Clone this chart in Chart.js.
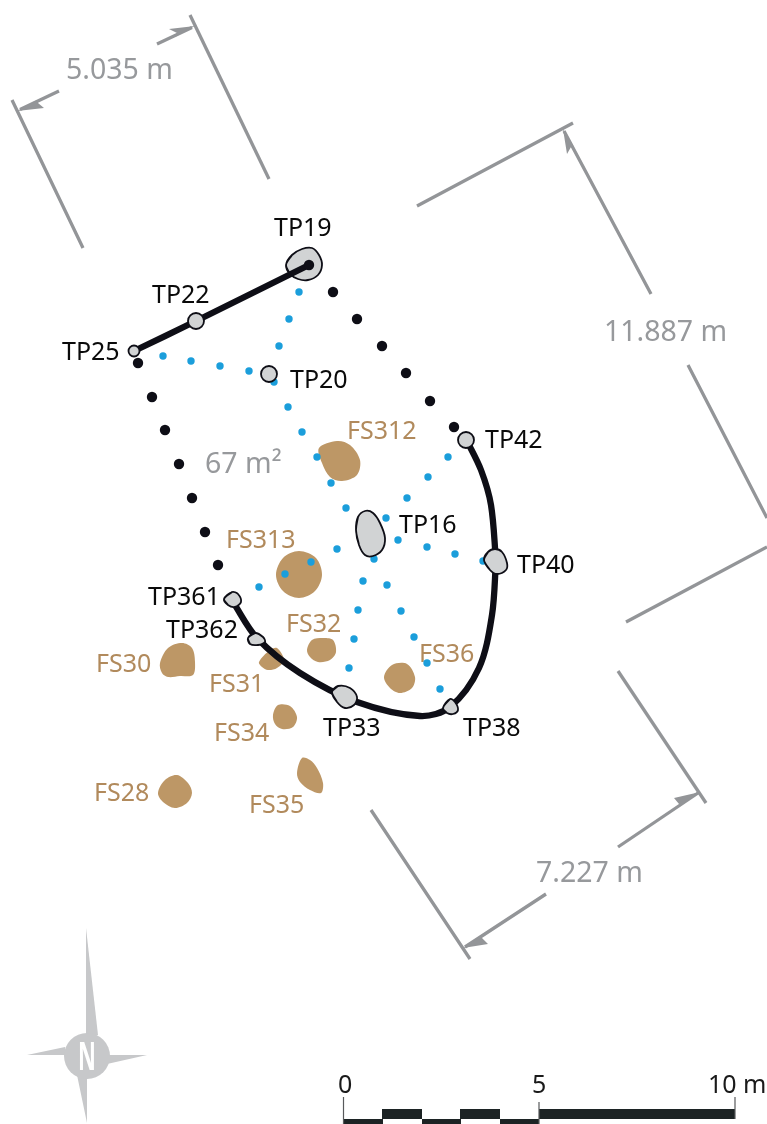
<!DOCTYPE html>
<html>
<head>
<meta charset="utf-8">
<script src="https://cdn.jsdelivr.net/npm/chart.js@4"></script>
<style>
  html, body { margin: 0; padding: 0; background: #fff; }
  canvas { display: block; }
</style>
</head>
<body>
<canvas id="plan" width="767" height="1124"></canvas>
<script>
const blueDots = [
  [299, 292], [289, 319], [279, 346], [163, 356], [191, 361], [220, 366], [249, 371], [274, 382],
  [288, 407], [302, 432], [317, 457], [331, 483], [346, 508], [448, 457], [428, 477], [407, 498],
  [386, 518], [398, 540], [427, 547], [455, 554], [483, 561], [374, 559], [337, 549], [311, 562],
  [285, 574], [259, 587], [363, 581], [387, 585], [358, 610], [401, 611], [354, 639], [414, 637],
  [349, 668], [427, 663], [440, 689]
]
const blackDots = [
  [138, 363], [152, 397], [165, 430], [179, 464], [192, 498], [205, 532], [218, 565],
  [333, 292], [357, 319], [382, 346], [406, 373], [430, 401], [454, 427], [309, 265]
]
const wallStraight = [[134, 351], [196, 321], [309, 265]]
const wallNorth = [[466, 439], [481, 470], [491, 505], [496, 561]]
const wallSouth = [
  [496, 561], [492, 615], [479, 668], [450, 707], [420, 716], [357, 702], [300, 673], [257, 638], [233, 602]
]

const roundPosts = [[196, 321], [269, 374], [466, 440]]
const smallPost = [[134, 351]]
const tp19 = [[286, 265], [292, 255], [302, 249], [312, 248], [319, 255], [322, 265], [318, 275], [308, 280], [298, 279], [290, 274]]
const tp16 = [[356, 530], [358, 517], [365, 511], [373, 513], [380, 523], [385, 538], [382, 550], [373, 556], [365, 555], [359, 545]]
const tp40 = [[484, 560], [488, 552], [495, 549], [502, 552], [507, 563], [506, 570], [497, 574], [490, 570]]
const tp38 = [[443, 708], [450, 699], [455, 702], [458, 710], [453, 714], [447, 713]]
const tp33 = [[332, 692], [338, 686], [350, 688], [357, 697], [354, 705], [345, 708], [337, 702]]
const tp362 = [[248, 638], [255, 633], [263, 637], [265, 642], [258, 645], [250, 644]]
const tp361 = [[224, 599], [232, 592], [238, 594], [241, 602], [235, 607], [228, 605]]

const fs312 = [[319, 448], [337, 441], [350, 445], [360, 460], [357, 475], [342, 481], [330, 477], [322, 463]]
const fs313 = [[276, 575], [283, 558], [299, 551], [316, 558], [322, 575], [315, 591], [299, 598], [283, 591]]
const fs32 = [[307, 650], [312, 640], [323, 638], [333, 640], [336, 652], [330, 660], [318, 662], [310, 657]]
const fs36 = [[384, 677], [392, 665], [407, 664], [415, 677], [412, 688], [400, 693], [390, 688]]
const fs31 = [[259, 662], [270, 650], [277, 648], [284, 660], [277, 668], [268, 670], [262, 667]]
const fs30 = [[160, 663], [168, 648], [182, 643], [192, 648], [195, 662], [193, 675], [180, 676], [168, 677], [162, 673]]
const fs34 = [[273, 715], [278, 705], [290, 706], [297, 717], [293, 727], [282, 729], [275, 724]]
const fs35 = [[297, 773], [302, 758], [310, 760], [317, 768], [323, 783], [321, 793], [310, 790], [300, 782]]
const fs28 = [[158, 793], [165, 780], [177, 775], [188, 783], [192, 793], [187, 803], [175, 808], [163, 802]]

const dimLines = [
  [[12, 100], [83, 248]], [[190, 15], [269, 179]], [[157, 44], [192, 27.5]], [[59, 91], [20, 109.5]],
  [[417, 206], [573, 123]], [[651, 294], [564, 131]], [[688, 365], [767, 518]], [[626, 622], [767, 547]],
  [[618, 671], [706, 803]], [[371, 810], [470, 959]], [[618, 847], [698, 793]], [[546, 894], [465, 947]]
]
const arrowHeads = [
  [[195, 26], [169, 29], [177, 33], [175, 37]], [[17, 111], [44, 108], [38, 103], [37, 100]],
  [[563, 129], [567, 154], [571, 147], [574, 147]], [[700, 792], [674, 798], [679, 804], [680, 806]],
  [[463, 948], [488, 944], [482, 938], [482, 935]]
]

const compassSpikes = [
  [[86, 928], [98, 1035], [86, 1040]], [[147, 1055], [108, 1055], [107, 1064]],
  [[27, 1055], [65, 1047], [65, 1055]], [[87, 1123], [77, 1075], [87, 1078]]
]
const compassHub = [[87, 1056]]

const scaleUpper = [[[382, 1114], [422, 1114]], [[460, 1114], [500, 1114]], [[539, 1114], [735, 1114]]]
const scaleLower = [[[343, 1121.5], [383, 1121.5]], [[422, 1121.5], [461, 1121.5]], [[500, 1121.5], [539, 1121.5]]]
const scaleTicks = [[[343.5, 1097], [343.5, 1124]], [[539, 1102], [539, 1124]], [[735, 1097], [735, 1119]]]

const tpNames = ['TP19', 'TP22', 'TP25', 'TP20', 'TP42', 'TP16', 'TP40', 'TP361', 'TP362', 'TP33', 'TP38']
const tpAnchors = [[274, 236], [152, 303], [62, 360], [290, 388], [485, 448], [399, 533], [517, 573], [148, 605], [166, 638], [323, 736], [463, 736]]
const fsNames = ['FS312', 'FS313', 'FS32', 'FS36', 'FS30', 'FS31', 'FS34', 'FS28', 'FS35']
const fsAnchors = [[347, 439], [226, 548], [286, 632], [419, 662], [96, 672], [209, 692], [214, 741], [94, 801], [249, 813]]
const dimNames = ['5.035 m', '11.887 m', '7.227 m', '67 m²']
const dimAnchors = [[66, 79], [604, 341], [536, 882], [205, 473]]
const scaleNames = ['0', '5', '10 m']
const scaleAnchors = [[338, 1093], [532, 1093], [708, 1093]]

const GREY = '#939598'
const STONE = '#d1d3d4'
const BROWN = '#bd9766'
const INK = '#0e0e16'
const BAR = '#1c2324'
const SMOOTH = 0.33 // above this the spline overshoots and the blobs go lumpy

const pts = list => list.map(p => ({ x: p[0], y: p[1] }))
// wrap a blob round by a point each way so the spline has no corner where it starts
const wrapped = list => pts([list[list.length - 1]].concat(list, [list[0], list[1]]))
const closed = list => pts(list.concat([list[0]]))

function line(list, color, width, cap) {
  return {
    data: pts(list), showLine: true, fill: false, pointRadius: 0, tension: SMOOTH,
    borderColor: color, borderWidth: width, borderCapStyle: cap || 'butt'
  }
}
function shape(list, color, stroke, tension) {
  return {
    data: tension ? wrapped(list) : closed(list), showLine: true, fill: 'shape', pointRadius: 0, tension: tension,
    backgroundColor: color, borderColor: stroke || color, borderWidth: stroke ? 1.8 : 0
  }
}
function dots(list, color, radius, stroke) {
  return {
    data: pts(list), showLine: false, pointRadius: radius, pointBackgroundColor: color,
    pointBorderColor: stroke || color, pointBorderWidth: stroke ? 1.8 : 0
  }
}

// paint order, first one ends up at the bottom
const layers = [
  ...[fs312, fs313, fs32, fs36, fs31, fs30, fs34, fs35, fs28].map(f => shape(f, BROWN, null, SMOOTH)),
  ...dimLines.map(l => line(l, GREY, 3.3)),
  ...arrowHeads.map(a => shape(a, GREY, null, 0)),
  dots(blueDots, '#1b9edb', 3.7),
  shape(tp19, STONE, INK, SMOOTH),
  line(wallStraight, INK, 6.3, 'round'),
  line(wallNorth, INK, 6.3, 'round'),
  line(wallSouth, INK, 6.3, 'round'),
  dots(blackDots, INK, 5.2),
  dots(roundPosts, STONE, 8, INK),
  dots(smallPost, STONE, 5.5, INK),
  ...[tp16, tp40, tp38, tp33, tp362, tp361].map(t => shape(t, STONE, INK, SMOOTH)),
  ...compassSpikes.map(s => shape(s, '#c7c8ca', null, 0)),
  dots(compassHub, '#c7c8ca', 23),
  ...scaleUpper.concat(scaleLower).map(s => line(s, BAR, s[0][1] > 1120 ? 5 : 10)),
  ...scaleTicks.map(s => line(s, '#58595b', 1.2))
].reverse()

function putText(chart, names, anchors, font, color) {
  const { ctx, scales } = chart
  ctx.save()
  ctx.font = font
  ctx.fillStyle = color
  ctx.textBaseline = 'alphabetic'
  names.forEach((name, i) => {
    ctx.fillText(name, scales.x.getPixelForValue(anchors[i][0]), scales.y.getPixelForValue(anchors[i][1]))
  })
  ctx.restore()
}

const planLabels = {
  id: 'planLabels',
  beforeDatasetsDraw(chart) {
    putText(chart, tpNames, tpAnchors, '25px "Noto Sans"', '#0a0a0a')
    putText(chart, fsNames, fsAnchors, '25px "Noto Sans"', '#b18a5c')
    putText(chart, dimNames, dimAnchors, '28.5px "Noto Sans"', '#97999c')
    putText(chart, scaleNames, scaleAnchors, '25px "Noto Sans"', '#1a1a1a')
  },
  afterDatasetsDraw(chart) {
    const { ctx, scales } = chart
    ctx.save()
    ctx.translate(scales.x.getPixelForValue(87), scales.y.getPixelForValue(1070))
    ctx.scale(0.55, 1)
    ctx.font = 'bold 40px "Noto Sans"'
    ctx.textAlign = 'center'
    ctx.fillStyle = '#fff'
    ctx.fillText('N', 0, 0)
    ctx.restore()
  }
}

new Chart(document.getElementById('plan'), {
  type: 'scatter',
  data: { datasets: layers },
  plugins: [planLabels],
  options: {
    responsive: false,
    animation: false,
    layout: { padding: 0, autoPadding: false },
    plugins: { legend: { display: false }, tooltip: { enabled: false } },
    scales: {
      x: { type: 'linear', min: 0, max: 767, display: false },
      y: { type: 'linear', min: 0, max: 1124, reverse: true, display: false }
    }
  }
})
</script>
</body>
</html>
